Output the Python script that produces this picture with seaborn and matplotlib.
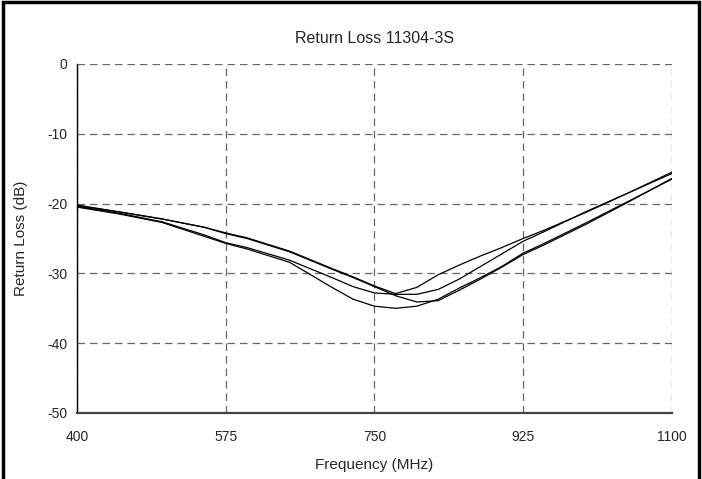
import pandas as pd
import matplotlib.pyplot as plt
import matplotlib.patches as patches
import seaborn as sns

# ---------- Data ----------
freq = [400, 450, 500, 550, 575, 600, 650, 700, 725, 750, 775, 800, 825,
        850, 875, 900, 925, 950, 1000, 1050, 1100]

port_1 = [-20.3, -21.2, -22.2, -23.4, -24.2, -24.9, -26.8, -29.3, -30.5, -31.8, -32.9, -32.0, -30.2,
          -28.8, -27.5, -26.3, -25.0, -23.8, -21.2, -18.4, -15.5]
port_2 = [-20.2, -21.2, -22.2, -23.4, -24.3, -25.0, -26.9, -29.4, -30.6, -31.9, -33.2, -34.1, -33.9,
          -32.4, -30.8, -29.1, -27.3, -25.9, -22.9, -19.7, -16.4]
port_3 = [-20.4, -21.4, -22.6, -24.5, -25.6, -26.3, -28.1, -30.6, -31.9, -32.8, -33.0, -33.0, -32.3,
          -30.8, -29.0, -27.2, -25.4, -24.0, -21.1, -18.4, -15.7]
port_4 = [-20.5, -21.5, -22.7, -24.7, -25.7, -26.5, -28.4, -32.0, -33.7, -34.7, -35.0, -34.7, -33.7,
          -32.1, -30.6, -29.0, -27.1, -25.7, -22.7, -19.6, -16.5]

x_ticks = [400, 575, 750, 925, 1100]
y_ticks = [0, -10, -20, -30, -40, -50]

df = pd.DataFrame({
    "Frequency (MHz)": freq * 4,
    "Return Loss (dB)": port_1 + port_2 + port_3 + port_4,
    "Port": ["1"] * len(freq) + ["2"] * len(freq) + ["3"] * len(freq) + ["4"] * len(freq),
})

# ---------- Plot ----------
sns.set_style("white")
plt.rcParams["font.family"] = ["Liberation Sans", "DejaVu Sans"]
plt.rcParams["axes.unicode_minus"] = False

fig = plt.figure(figsize=(7.02, 4.79), dpi=100)
ax = fig.add_axes([0.1097, 0.1378, 0.8473, 0.7286])

sns.lineplot(
    data=df,
    x="Frequency (MHz)",
    y="Return Loss (dB)",
    hue="Port",
    palette=["black"] * 4,
    linewidth=0.9,
    legend=False,
    ax=ax,
)

ax.set_xlim(400, 1100)
ax.set_ylim(-50, 0)
ax.set_xticks(x_ticks)
ax.set_yticks(y_ticks)
ax.grid(True, color="#666666", linestyle=(0, (6, 4)), linewidth=0.9)

for side in ["top", "right"]:
    ax.spines[side].set_visible(False)
ax.spines["left"].set_color("black")
ax.spines["left"].set_linewidth(1.0)
ax.spines["bottom"].set_color("#444444")
ax.spines["bottom"].set_linewidth(1.6)

ax.tick_params(axis="both", direction="out", length=4, width=0.8, color="black",
               labelsize=10, pad=3)
ax.tick_params(axis="x", pad=8)

ax.set_title("Return Loss 11304-3S", fontsize=11.5, pad=15)
ax.set_xlabel("Frequency (MHz)", fontsize=11, labelpad=10)
ax.set_ylabel("Return Loss (dB)", fontsize=11, labelpad=14)

# outer frame like the spreadsheet chart area
fig.add_artist(patches.Rectangle((0.004, -0.05), 0.992, 1.046, transform=fig.transFigure,
                                 fill=False, edgecolor="black", linewidth=2.5))

fig.savefig("out.png", dpi=100)
